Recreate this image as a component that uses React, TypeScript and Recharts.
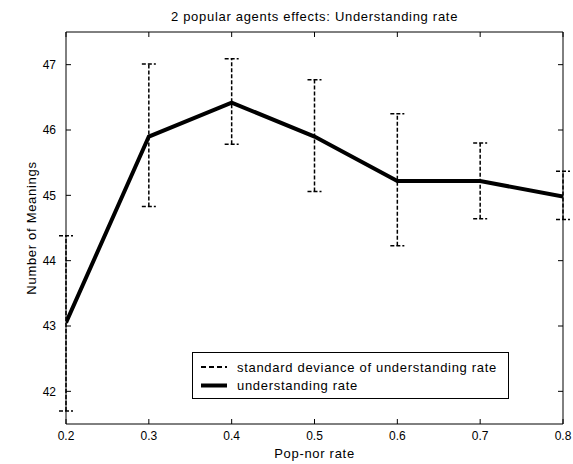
import React from "react";
import { LineChart, Line, XAxis, YAxis, ErrorBar, Legend } from "recharts";

const POP_RATE = [0.2, 0.3, 0.4, 0.5, 0.6, 0.7, 0.8];
const MEANINGS = [43.05, 45.9, 46.42, 45.9, 45.22, 45.22, 44.98];
const SD_UPPER = [44.38, 47.01, 47.09, 46.77, 46.25, 45.8, 45.37];
const SD_LOWER = [41.7, 44.83, 45.78, 45.06, 44.23, 44.64, 44.63];
const X_TICKS = [0.2, 0.3, 0.4, 0.5, 0.6, 0.7, 0.8];
const Y_TICKS = [42, 43, 44, 45, 46, 47];

const data = POP_RATE.map((x, i) => ({
  x,
  rate: MEANINGS[i],
  sd: [MEANINGS[i] - SD_LOWER[i], SD_UPPER[i] - MEANINGS[i]],
}));

const FONT = "'Liberation Sans', Arial, sans-serif";
const tickStyle = { fill: "#000", fontSize: 12, fontFamily: FONT };
const labelStyle = { fill: "#000", fontSize: 13, fontFamily: FONT, letterSpacing: 0.7 };

function LegendBox() {
  return (
    <div style={{ border: "1px solid #000", background: "#fff", width: 317, height: 47, fontFamily: FONT, fontSize: 13, letterSpacing: 0.7, color: "#000", boxSizing: "border-box", padding: "5px 0 0 8px" }}>
      <div style={{ display: "flex", alignItems: "center", height: 18 }}>
        <svg width={26} height={4}><line x1={0} y1={2} x2={26} y2={2} stroke="#000" strokeWidth={2} strokeDasharray="5 3" /></svg>
        <span style={{ marginLeft: 10 }}>standard deviance of understanding rate</span>
      </div>
      <div style={{ display: "flex", alignItems: "center", height: 18 }}>
        <svg width={26} height={5}><line x1={0} y1={2.5} x2={26} y2={2.5} stroke="#000" strokeWidth={4} /></svg>
        <span style={{ marginLeft: 10 }}>understanding rate</span>
      </div>
    </div>
  );
}

export default function App() {
  return (
    <div style={{ position: "absolute", left: 0, top: 0, background: "#fff" }}>
      <LineChart width={573} height={464} data={data} margin={{ top: 31, right: 9, left: 0, bottom: 15 }}>
        <XAxis
          dataKey="x" type="number" domain={[0.2, 0.8]} ticks={X_TICKS} allowDataOverflow
          tickFormatter={(v: number) => v.toFixed(1)}
          height={25} tickSize={-5} tickMargin={12}
          stroke="#000" tick={tickStyle}
          label={{ value: "Pop-nor rate", position: "bottom", offset: 0, style: labelStyle }}
        />
        <XAxis
          xAxisId="top" orientation="top" dataKey="x" type="number" domain={[0.2, 0.8]} ticks={X_TICKS}
          height={1} tickSize={-5} stroke="#000" tickFormatter={() => ""}
          label={{ value: "2 popular agents effects: Understanding rate", position: "top", offset: 10, style: labelStyle }}
        />
        <YAxis
          type="number" domain={[41.5, 47.5]} ticks={Y_TICKS} width={66}
          tickSize={-5} tickMargin={15} stroke="#000" tick={tickStyle}
          label={{ value: "Number of Meanings", angle: -90, position: "insideLeft", offset: 31, style: { ...labelStyle, textAnchor: "middle" } }}
        />
        <YAxis
          yAxisId="right" orientation="right" type="number" domain={[41.5, 47.5]} ticks={Y_TICKS}
          width={1} tickSize={-5} stroke="#000" tickFormatter={() => ""}
        />
        <Line xAxisId="top" yAxisId="right" dataKey="rate" stroke="none" dot={false} isAnimationActive={false} legendType="none" />
        <Line type="linear" dataKey="rate" stroke="#000" strokeWidth={4} dot={false} isAnimationActive={false}>
          <ErrorBar dataKey="sd" direction="y" width={7} stroke="#000" strokeWidth={1.5} strokeDasharray="4 2" />
        </Line>
        <Legend
          layout="horizontal" verticalAlign="middle" align="center"
          content={() => <LegendBox />}
          wrapperStyle={{ left: 192, top: 352, width: 317, height: 47 }}
        />
      </LineChart>
    </div>
  );
}
